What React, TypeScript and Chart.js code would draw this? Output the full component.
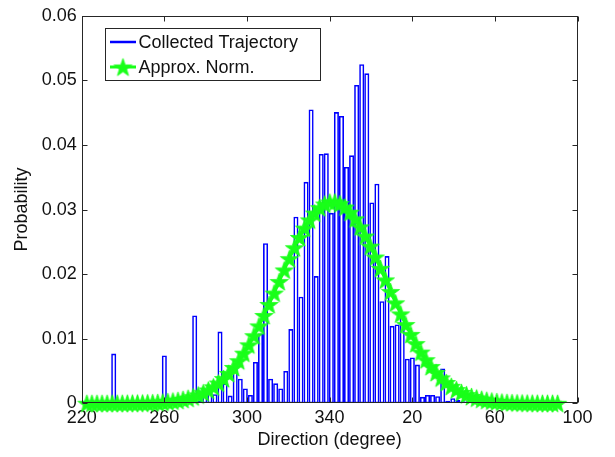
import React, { useEffect, useRef } from "react";
import { Chart, registerables } from "chart.js";

Chart.register(...registerables);

// Histogram bins (direction in degrees, values above 360 wrap to 0..100)
const binCenters = [
  220.8, 223.25, 225.7, 228.15, 230.6, 233.05, 235.5, 237.95, 240.4, 242.85,
  245.3, 247.75, 250.2, 252.65, 255.1, 257.55, 260.0, 262.45, 264.9, 267.35,
  269.8, 272.25, 274.7, 277.15, 279.6, 282.05, 284.5, 286.95, 289.4, 291.85,
  294.3, 296.75, 299.2, 301.65, 304.1, 306.55, 309.0, 311.45, 313.9, 316.35,
  318.8, 321.25, 323.7, 326.15, 328.6, 331.05, 333.5, 335.95, 338.4, 340.85,
  343.3, 345.75, 348.2, 350.65, 353.1, 355.55, 358.0, 360.45, 362.9, 365.35,
  367.8, 370.25, 372.7, 375.15, 377.6, 380.05, 382.5, 384.95, 387.4, 389.85,
  392.3, 394.75, 397.2, 399.65, 402.1, 404.55, 407.0, 409.45,
];

const binValues = [
  0, 0, 0, 0, 0, 0, 0.0077, 0, 0, 0,
  0, 0, 0, 0, 0, 0, 0.0074, 0, 0, 0,
  0, 0, 0.0136, 0.0004, 0.0017, 0.0024, 0.0014, 0.0111, 0.0031, 0.0012,
  0.0054, 0.0038, 0.0023, 0.0013, 0.0064, 0.0108, 0.0248, 0.0038, 0.0031, 0.0023,
  0.005, 0.0115, 0.0289, 0.0165, 0.0343, 0.0455, 0.0197, 0.0386, 0.0387, 0.0295,
  0.0451, 0.0445, 0.0366, 0.0384, 0.0493, 0.0525, 0.0511, 0.0311, 0.034, 0.0158,
  0.0228, 0.012, 0.0122, 0.0135, 0.0069, 0.0071, 0.006, 0.001, 0.0013, 0.0013,
  0.0011, 0.0054, 0.0004, 0.0008, 0.0005, 0.0003, 0.0002, 0.0001,
];

// Approximate normal curve
const normX = [
  222.5, 224.95, 227.4, 229.85, 232.3, 234.75, 237.2, 239.65, 242.1, 244.55,
  247.0, 249.45, 251.9, 254.35, 256.8, 259.25, 261.7, 264.15, 266.6, 269.05,
  271.5, 273.95, 276.4, 278.85, 281.3, 283.75, 286.2, 288.65, 291.1, 293.55,
  296.0, 298.45, 300.9, 303.35, 305.8, 308.25, 310.7, 313.15, 315.6, 318.05,
  320.5, 322.95, 325.4, 327.85, 330.3, 332.75, 335.2, 337.65, 340.1, 342.55,
  345.0, 347.45, 349.9, 352.35, 354.8, 357.25, 359.7, 362.15, 364.6, 367.05,
  369.5, 371.95, 374.4, 376.85, 379.3, 381.75, 384.2, 386.65, 389.1, 391.55,
  394.0, 396.45, 398.9, 401.35, 403.8, 406.25, 408.7, 411.15, 413.6, 416.05,
  418.5, 420.95, 423.4, 425.85, 428.3, 430.75, 433.2, 435.65, 438.1, 440.55,
  443.0, 445.45, 447.9, 450.35,
];

const normY = [
  0.0, 0.0, 0.0, 0.0, 0.0, 0.00001, 0.00001, 0.00001, 0.00002, 0.00003,
  0.00004, 0.00005, 0.00008, 0.0001, 0.00014, 0.00019, 0.00026, 0.00035, 0.00046, 0.00061,
  0.00079, 0.00101, 0.00129, 0.00164, 0.00205, 0.00255, 0.00314, 0.00383, 0.00463, 0.00555,
  0.00659, 0.00776, 0.00905, 0.01046, 0.01198, 0.0136, 0.0153, 0.01706, 0.01885, 0.02064,
  0.0224, 0.02409, 0.02568, 0.02713, 0.0284, 0.02946, 0.03028, 0.03085, 0.03115, 0.03117,
  0.03091, 0.03038, 0.02959, 0.02856, 0.02732, 0.0259, 0.02433, 0.02265, 0.0209, 0.01911,
  0.01731, 0.01555, 0.01384, 0.0122, 0.01067, 0.00924, 0.00793, 0.00675, 0.00569, 0.00476,
  0.00393, 0.00323, 0.00263, 0.00212, 0.00169, 0.00134, 0.00105, 0.00082, 0.00063, 0.00048,
  0.00036, 0.00027, 0.0002, 0.00015, 0.00011, 0.00008, 0.00006, 0.00004, 0.00003, 0.00002,
  0.00001, 0.00001, 0.00001, 0.0,
];

const xTickValues = [220, 260, 300, 340, 380, 420, 460];
const yTickValues = [0, 0.01, 0.02, 0.03, 0.04, 0.05, 0.06];
const seriesLabels = ["Collected Trajectory", "Approx. Norm."];

const BLUE = "#0000ff";
const GREEN = "#19ff19";
const FONT = "'Liberation Sans', Arial, Helvetica, sans-serif";

function makeStar(r: number, color: string): HTMLCanvasElement {
  const c = document.createElement("canvas");
  const s = Math.ceil(2 * r + 2);
  c.width = s;
  c.height = s;
  const ctx = c.getContext("2d")!;
  ctx.beginPath();
  for (let i = 0; i < 10; i++) {
    const ang = -Math.PI / 2 + (i * Math.PI) / 5;
    const rad = i % 2 === 0 ? r : r * 0.4;
    const px = s / 2 + rad * Math.cos(ang);
    const py = s / 2 + rad * Math.sin(ang) + r * 0.1;
    if (i === 0) ctx.moveTo(px, py);
    else ctx.lineTo(px, py);
  }
  ctx.closePath();
  ctx.fillStyle = color;
  ctx.fill();
  ctx.strokeStyle = color;
  ctx.lineWidth = 0.8;
  ctx.stroke();
  return c;
}

export default function App() {
  const ref = useRef<HTMLCanvasElement | null>(null);

  useEffect(() => {
    document.body.style.margin = "0";
    const canvas = ref.current;
    if (!canvas) return;
    const star = makeStar(9.5, GREEN);

    const framePlugin = {
      id: "frame",
      afterDatasetsDraw(chart: any) {
        const { ctx, chartArea: a, scales } = chart;
        const xs = scales.x;
        const ys = scales.y;
        ctx.save();
        ctx.strokeStyle = "#262626";
        ctx.lineWidth = 1;
        const L = Math.round(a.left) + 0.5;
        const R = Math.round(a.right) - 0.5;
        const T = Math.round(a.top) + 0.5;
        const B = Math.round(a.bottom) - 0.5;
        ctx.strokeRect(L, T, R - L, B - T);
        const tl = 5;
        ctx.beginPath();
        xTickValues.forEach((v) => {
          const px = Math.round(xs.getPixelForValue(v)) + 0.5;
          ctx.moveTo(px, B);
          ctx.lineTo(px, B - tl);
          ctx.moveTo(px, T);
          ctx.lineTo(px, T + tl);
        });
        yTickValues.forEach((v) => {
          const py = Math.round(ys.getPixelForValue(v)) + 0.5;
          ctx.moveTo(L, py);
          ctx.lineTo(L + tl, py);
          ctx.moveTo(R, py);
          ctx.lineTo(R - tl, py);
        });
        ctx.stroke();
        ctx.restore();
      },
      afterDraw(chart: any) {
        const { ctx } = chart;
        ctx.save();
        const bx = 105.5, by = 28.5, bw = 215, bh = 52;
        ctx.fillStyle = "#ffffff";
        ctx.fillRect(bx, by, bw, bh);
        ctx.strokeStyle = "#262626";
        ctx.lineWidth = 1;
        ctx.strokeRect(bx, by, bw, bh);
        const rows = [42, 67];
        // row 1: blue line (histogram)
        ctx.strokeStyle = BLUE;
        ctx.lineWidth = 2.5;
        ctx.beginPath();
        ctx.moveTo(110, rows[0]);
        ctx.lineTo(136, rows[0]);
        ctx.stroke();
        // row 2: green line with star
        ctx.strokeStyle = GREEN;
        ctx.lineWidth = 3;
        ctx.beginPath();
        ctx.moveTo(110, rows[1]);
        ctx.lineTo(136, rows[1]);
        ctx.stroke();
        ctx.drawImage(star, 123 - star.width / 2, rows[1] - star.height / 2);
        ctx.fillStyle = "#111";
        ctx.font = `18px ${FONT}`;
        ctx.textBaseline = "middle";
        ctx.textAlign = "left";
        ctx.fillText(seriesLabels[0], 138.5, rows[0] + 1);
        ctx.fillText(seriesLabels[1], 138.5, rows[1] + 1);
        ctx.restore();
      },
    };

    const chart = new Chart(canvas, {
      type: "bar",
      data: {
        datasets: [
          {
            type: "line",
            label: seriesLabels[1],
            data: normX.map((x, i) => ({ x, y: normY[i] })),
            borderColor: GREEN,
            backgroundColor: GREEN,
            borderWidth: 3,
            tension: 0,
            pointStyle: star as any,
            pointRadius: 9,
            clip: false as any,
            order: 0,
          } as any,
          {
            type: "bar",
            label: seriesLabels[0],
            data: binCenters.map((x, i) => ({ x, y: binValues[i] })),
            borderColor: BLUE,
            backgroundColor: "rgba(255,255,255,0)",
            borderWidth: 1.6,
            borderSkipped: false,
            minBarLength: 2,
            barPercentage: 1,
            categoryPercentage: 1,
            inflateAmount: 0,
            order: 1,
          } as any,
        ],
      },
      options: {
        responsive: false,
        animation: false,
        events: [],
        layout: { padding: { left: 0, right: 37.5, top: 13.3, bottom: 0 } },
        plugins: {
          legend: { display: false },
          tooltip: { enabled: false },
        },
        scales: {
          x: {
            type: "linear",
            min: 220,
            max: 460,
            offset: false,
            grid: { display: false, drawTicks: false },
            border: { display: false },
            afterFit: (s: any) => {
              s.height = 53.7;
            },
            afterBuildTicks: (s: any) => {
              s.ticks = xTickValues.map((v) => ({ value: v }));
            },
            ticks: {
              padding: 4,
              color: "#111",
              font: { family: FONT, size: 18 },
              maxRotation: 0,
              callback: (v: any) => String(((Number(v) % 360) + 360) % 360),
            },
            title: {
              display: true,
              text: "Direction (degree)",
              color: "#111",
              font: { family: FONT, size: 18 },
              padding: { top: 0, bottom: 6 },
            },
          },
          y: {
            type: "linear",
            min: 0,
            max: 0.06,
            grid: { display: false, drawTicks: false },
            border: { display: false },
            afterFit: (s: any) => {
              s.width = 81.7;
            },
            afterBuildTicks: (s: any) => {
              s.ticks = yTickValues.map((v) => ({ value: v }));
            },
            ticks: {
              padding: 5,
              color: "#111",
              font: { family: FONT, size: 18 },
              callback: (v: any) => (Number(v) === 0 ? "0" : Number(v).toFixed(2)),
            },
            title: {
              display: true,
              text: "Probability",
              color: "#111",
              font: { family: FONT, size: 18 },
              padding: { top: 11, bottom: 0 },
            },
          },
        },
      },
      plugins: [framePlugin],
    } as any);

    return () => chart.destroy();
  }, []);

  return (
    <div style={{ position: "absolute", left: 0, top: 0, width: 615, height: 457, background: "#fff" }}>
      <canvas ref={ref} width={615} height={457} style={{ display: "block" }} />
    </div>
  );
}
